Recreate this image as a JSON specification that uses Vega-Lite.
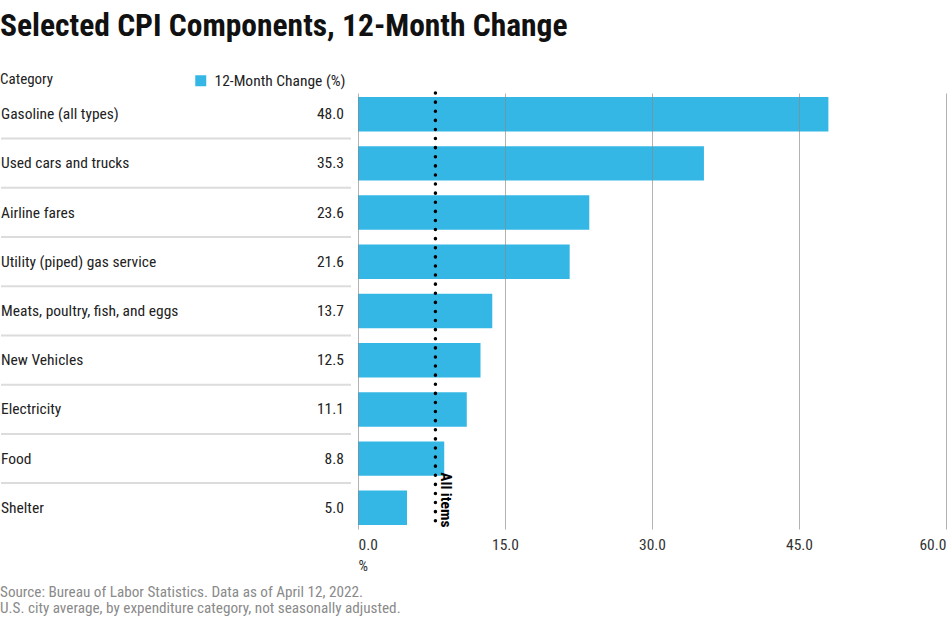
{
  "$schema": "https://vega.github.io/schema/vega-lite/v6.json",
  "padding": {"top": 11, "left": 0, "right": 4, "bottom": 3},
  "background": "white",
  "config": {
    "font": "Roboto Condensed, Liberation Sans Narrow, Open Sans Condensed, DejaVu Sans Condensed",
    "view": {"stroke": null},
    "text": {"font": "Roboto Condensed, Liberation Sans Narrow, Open Sans Condensed, DejaVu Sans Condensed", "fontSize": 15.5, "color": "#222"},
    "axis": {"labelFont": "Roboto Condensed, Liberation Sans Narrow, Open Sans Condensed, DejaVu Sans Condensed", "titleFont": "Roboto Condensed, Liberation Sans Narrow, Open Sans Condensed, DejaVu Sans Condensed"},
    "legend": {"labelFont": "Roboto Condensed, Liberation Sans Narrow, Open Sans Condensed, DejaVu Sans Condensed"},
    "title": {"font": "Roboto Condensed, Liberation Sans Narrow, Open Sans Condensed, DejaVu Sans Condensed"}
  },
  "data": {"values": [
    {"category": "Gasoline (all types)", "change": 48.0},
    {"category": "Used cars and trucks", "change": 35.3},
    {"category": "Airline fares", "change": 23.6},
    {"category": "Utility (piped) gas service", "change": 21.6},
    {"category": "Meats, poultry, fish, and eggs", "change": 13.7},
    {"category": "New Vehicles", "change": 12.5},
    {"category": "Electricity", "change": 11.1},
    {"category": "Food", "change": 8.8},
    {"category": "Shelter", "change": 5.0}
  ]},
  "title": {
    "text": ["Source: Bureau of Labor Statistics. Data as of April 12, 2022.", "U.S. city average, by expenditure category, not seasonally adjusted."],
    "orient": "bottom", "anchor": "start", "fontSize": 15.2, "fontWeight": "normal", "color": "#8a8a8a", "lineHeight": 16, "offset": 11
  },
  "vconcat": [
    {
      "title": {"text": "Selected CPI Components, 12-Month Change", "anchor": "start", "fontSize": 31.5, "fontWeight": "bold", "color": "#111", "offset": 29.5},
      "spacing": 7,
      "bounds": "flush",
      "resolve": {"legend": {"color": "independent"}, "scale": {"color": "independent"}},
      "hconcat": [
        {
          "width": 350,
          "height": 436,
          "title": {"text": "Category", "anchor": "start", "fontSize": 15, "fontWeight": "normal", "color": "#222", "offset": 6},
          "encoding": {
            "y": {"field": "category", "type": "nominal", "sort": null, "axis": null, "scale": {"paddingInner": 0.3, "paddingOuter": 0.08}}
          },
          "layer": [
            {
              "mark": {"type": "text", "align": "left", "baseline": "middle"},
              "encoding": {
                "x": {"datum": 0, "type": "quantitative", "scale": {"domain": [0, 1], "nice": false}, "axis": null},
                "text": {"field": "category"}
              }
            },
            {
              "mark": {"type": "text", "align": "right", "baseline": "middle", "dx": -7},
              "encoding": {
                "x": {"datum": 1, "type": "quantitative"},
                "text": {"field": "change", "type": "quantitative", "format": ".1f"}
              }
            },
            {
              "transform": [{"filter": "datum.category != 'Shelter'"}],
              "mark": {"type": "rule", "color": "#dcdcdc", "strokeWidth": 2},
              "encoding": {
                "x": {"datum": 0, "type": "quantitative"},
                "x2": {"datum": 1},
                "y": {"field": "category", "type": "nominal", "sort": null, "bandPosition": 1.21}
              }
            }
          ]
        },
        {
          "width": 588,
          "height": 436,
          "layer": [
            {
              "mark": {"type": "bar"},
              "encoding": {
                "y": {"field": "category", "type": "nominal", "sort": null, "axis": null, "scale": {"paddingInner": 0.3, "paddingOuter": 0.08}},
                "x": {
                  "field": "change", "type": "quantitative",
                  "scale": {"domain": [0, 60], "nice": false},
                  "axis": {
                    "values": [0, 15, 30, 45, 60], "format": ".1f", "grid": true, "gridColor": "#888", "gridOpacity": 0.65,
                    "domain": false, "ticks": false, "labelFlush": true, "labelFontSize": 15.5, "labelColor": "#333", "labelPadding": 8,
                    "title": "%", "titleAnchor": "start", "titleAlign": "left", "titleFontWeight": "normal", "titleFontSize": 15, "titleColor": "#333", "titlePadding": 6, "zindex": 1
                  }
                },
                "color": {
                  "datum": "12-Month Change (%)",
                  "scale": {"range": ["#35b7e5"]},
                  "legend": {"title": null, "orient": "none", "legendX": -165, "legendY": -20, "symbolType": "square", "symbolSize": 121, "symbolStrokeWidth": 0, "labelFontSize": 15.5, "labelColor": "#222", "labelOffset": 6, "padding": 0}
                }
              }
            },
            {
              "data": {"values": [{"label": "All items", "allItems": 7.9}]},
              "mark": {"type": "rule", "color": "#000", "strokeWidth": 3.5, "strokeCap": "round", "strokeDash": [0.1, 9]},
              "encoding": {"x": {"field": "allItems", "type": "quantitative"}}
            },
            {
              "data": {"values": [{"label": "All items", "allItems": 7.9, "category": "Shelter"}]},
              "mark": {"type": "text", "angle": 90, "align": "center", "baseline": "bottom", "fontWeight": "bold", "fontSize": 15.5, "color": "#000", "dy": -3, "dx": -8},
              "encoding": {
                "x": {"field": "allItems", "type": "quantitative"},
                "y": {"field": "category", "type": "nominal", "sort": null},
                "text": {"field": "label"}
              }
            }
          ]
        }
      ]
    }
  ]
}
